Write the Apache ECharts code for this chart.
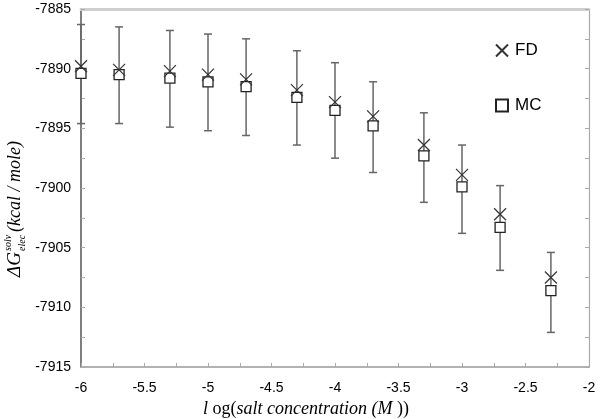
<!DOCTYPE html>
<html>
<head>
<meta charset="utf-8">
<script src="https://cdn.jsdelivr.net/npm/echarts@6/dist/echarts.min.js"></script>
<style>
html,body{margin:0;padding:0;background:#fff;}
#chart{width:600px;height:419px;}
</style>
</head>
<body>
<div id="chart"></div>
<script>
var logSalt = [-6, -5.7, -5.3, -5, -4.7, -4.3, -4, -3.7, -3.3, -3, -2.7, -2.3];
var fdValues = [-7889.8, -7890.1, -7890.2, -7890.5, -7890.9, -7891.8, -7892.8, -7894.0, -7896.4, -7898.9, -7902.2, -7907.5];
var mcValues = [-7890.4, -7890.5, -7890.8, -7891.1, -7891.5, -7892.4, -7893.5, -7894.8, -7897.3, -7899.9, -7903.3, -7908.6];
var errLow = [-7894.6, -7894.6, -7894.9, -7895.2, -7895.6, -7896.4, -7897.5, -7898.7, -7901.2, -7903.8, -7906.9, -7912.1];
var errHigh = [-7886.3, -7886.5, -7886.8, -7887.1, -7887.5, -7888.5, -7889.5, -7891.1, -7893.7, -7896.4, -7899.8, -7905.4];
var xTicks = [-6, -5.5, -5, -4.5, -4, -3.5, -3, -2.5, -2];
var yTicks = [-7915, -7910, -7905, -7900, -7895, -7890, -7885];

var chart = echarts.init(document.getElementById('chart'));
var labelFont = 'Liberation Sans, Arial, sans-serif';
var serif = 'Liberation Serif, Times New Roman, serif';

function pair(a, b) { return a.map(function (v, i) { return [v, b[i]]; }); }

var option = {
  animation: false,
  backgroundColor: '#fff',
  grid: { left: 81, right: 11, top: 9, bottom: 52, containLabel: false },
  xAxis: [{
    type: 'value', min: xTicks[0], max: xTicks[xTicks.length - 1], interval: 0.5,
    position: 'bottom',
    axisLine: { show: true, lineStyle: { color: '#999', width: 1.5 } },
    axisTick: { show: true, inside: true, length: 4, lineStyle: { color: '#aaa' } },
    minorTick: { show: true, splitNumber: 2, length: 4, lineStyle: { color: '#aaa' } },
    splitLine: { show: false },
    axisLabel: { color: '#000', fontSize: 14, fontFamily: labelFont, margin: 14,
      formatter: function (v) { return String(v); } }
  }, {
    type: 'value', min: xTicks[0], max: xTicks[xTicks.length - 1], interval: 0.5,
    position: 'top',
    axisLine: { show: true, lineStyle: { color: '#cfcfcf', width: 3 } },
    axisTick: { show: false }, axisLabel: { show: false }, splitLine: { show: false }
  }],
  yAxis: [{
    type: 'value', min: yTicks[0], max: yTicks[yTicks.length - 1], interval: 5,
    position: 'left',
    axisLine: { show: true, lineStyle: { color: '#555', width: 1.5 } },
    axisTick: { show: true, inside: true, length: 4, lineStyle: { color: '#aaa' } },
    minorTick: { show: true, splitNumber: 2, length: 4, lineStyle: { color: '#aaa' } },
    splitLine: { show: false },
    axisLabel: { color: '#000', fontSize: 14, fontFamily: labelFont, margin: 10,
      formatter: function (v) { return String(v); } }
  }, {
    type: 'value', min: yTicks[0], max: yTicks[yTicks.length - 1], interval: 5,
    position: 'right',
    axisLine: { show: true, lineStyle: { color: '#aaa', width: 1.2 } },
    axisTick: { show: true, inside: true, length: 4, lineStyle: { color: '#aaa' } },
    minorTick: { show: true, splitNumber: 2, length: 4, lineStyle: { color: '#aaa' } },
    axisLabel: { show: false }, splitLine: { show: false }
  }],
  legend: {
    orient: 'vertical', left: 490, top: 37, itemGap: 38,
    itemWidth: 12, itemHeight: 12,
    textStyle: { fontSize: 17, fontFamily: labelFont, color: '#000', padding: [0, 0, 0, 2] },
    data: ['FD', 'MC']
  },
  series: [{
    name: 'err', type: 'custom', z: 1,
    data: logSalt.map(function (x, i) { return [x, errLow[i], errHigh[i]]; }),
    renderItem: function (params, api) {
      var x = api.value(0);
      var lo = api.coord([x, api.value(1)]);
      var hi = api.coord([x, api.value(2)]);
      var cap = 4;
      var st = { stroke: '#666', lineWidth: 1.5 };
      return { type: 'group', children: [
        { type: 'line', shape: { x1: lo[0], y1: lo[1], x2: hi[0], y2: hi[1] }, style: st },
        { type: 'line', shape: { x1: lo[0] - cap, y1: lo[1], x2: lo[0] + cap, y2: lo[1] }, style: st },
        { type: 'line', shape: { x1: hi[0] - cap, y1: hi[1], x2: hi[0] + cap, y2: hi[1] }, style: st }
      ] };
    }
  }, {
    name: 'MC', type: 'scatter', z: 3,
    data: pair(logSalt, mcValues),
    symbol: 'rect', symbolSize: 10,
    itemStyle: { color: '#fff', borderColor: '#222', borderWidth: 1.3, opacity: 1 }
  }, {
    name: 'FD', type: 'scatter', z: 4,
    data: pair(logSalt, fdValues),
    symbol: 'path://M0,0L10,10M10,0L0,10', symbolSize: 12,
    itemStyle: { color: 'rgba(0,0,0,0)', borderColor: '#333', borderWidth: 1.2, opacity: 1 }
  }],
  graphic: [{
    type: 'group', x: 15, y: 277, rotation: Math.PI / 2,
    children: [
      { type: 'text', x: 0, y: 0, style: { text: 'ΔG', font: 'italic 19px ' + serif, fill: '#000', verticalAlign: 'middle', align: 'left' } },
      { type: 'text', x: 26, y: -7, style: { text: 'solv', font: 'italic 10px ' + serif, fill: '#000', verticalAlign: 'middle', align: 'left' } },
      { type: 'text', x: 26, y: 7, style: { text: 'elec', font: 'italic 10px ' + serif, fill: '#000', verticalAlign: 'middle', align: 'left' } },
      { type: 'text', x: 45, y: 0, style: { text: '(kcal / mole)', font: 'italic 18px ' + serif, fill: '#000', verticalAlign: 'middle', align: 'left' } }
    ]
  }, {
    type: 'text', x: 203, y: 409,
    style: {
      text: '{i|l} {n|og(}{i|salt concentration (}{i|M}{n| ))}',
      verticalAlign: 'middle', align: 'left',
      rich: {
        i: { font: 'italic 18px ' + serif, fill: '#000' },
        n: { font: '18px ' + serif, fill: '#000' }
      },
      font: '18px ' + serif, fill: '#000'
    }
  }]
};
chart.setOption(option);
</script>
</body>
</html>
